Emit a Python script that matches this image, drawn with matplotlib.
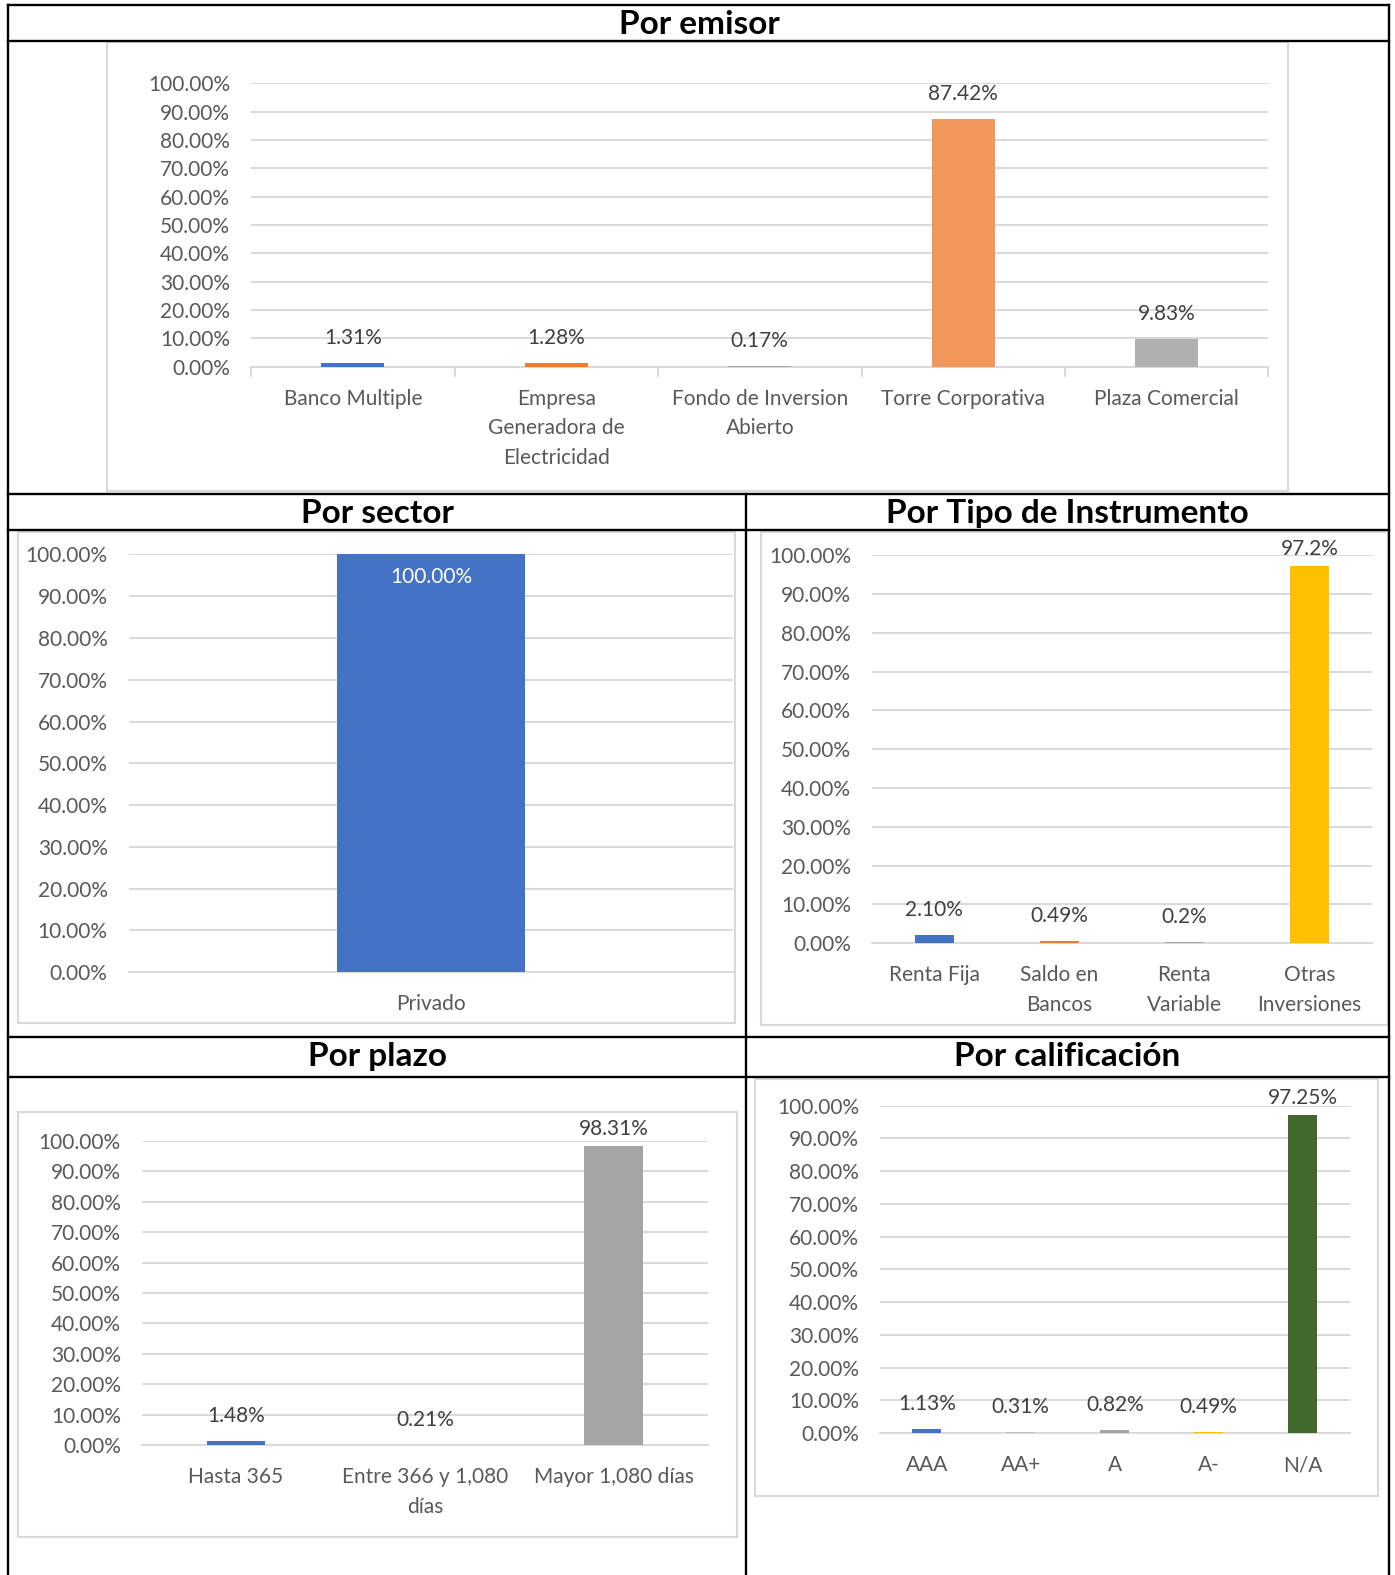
import matplotlib
matplotlib.use("Agg")
import matplotlib.pyplot as plt
from matplotlib.lines import Line2D
from matplotlib.patches import Rectangle
import numpy as np

plt.rcParams['font.family'] = ['Lato', 'DejaVu Sans']

# ---- data ----
emisor_cats = ["Banco Multiple", "Empresa\nGeneradora de\nElectricidad",
               "Fondo de Inversion\nAbierto", "Torre Corporativa", "Plaza Comercial"]
emisor_vals = [1.31, 1.28, 0.17, 87.42, 9.83]
emisor_labels = ["1.31%", "1.28%", "0.17%", "87.42%", "9.83%"]
emisor_colors = ["#4472C4", "#ED7D31", "#A5A5A5", "#F1975A", "#B0B0B0"]

sector_cats = ["Privado"]
sector_vals = [100.0]
sector_labels = ["100.00%"]
sector_colors = ["#4472C4"]

tipo_cats = ["Renta Fija", "Saldo en\nBancos", "Renta\nVariable", "Otras\nInversiones"]
tipo_vals = [2.10, 0.49, 0.2, 97.2]
tipo_labels = ["2.10%", "0.49%", "0.2%", "97.2%"]
tipo_colors = ["#4472C4", "#ED7D31", "#A5A5A5", "#FFC000"]

plazo_cats = ["Hasta 365", "Entre 366 y 1,080\ndías", "Mayor 1,080 días"]
plazo_vals = [1.48, 0.21, 98.31]
plazo_labels = ["1.48%", "0.21%", "98.31%"]
plazo_colors = ["#4472C4", "#ED7D31", "#A5A5A5"]

calif_cats = ["AAA", "AA+", "A", "A-", "N/A"]
calif_vals = [1.13, 0.31, 0.82, 0.49, 97.25]
calif_labels = ["1.13%", "0.31%", "0.82%", "0.49%", "97.25%"]
calif_colors = ["#4472C4", "#BFBFBF", "#A5A5A5", "#FFC000", "#43682B"]

W, H = 1395, 1575
S = 1395 / 1389  # positions below were measured on the 1389 px preview
fig = plt.figure(figsize=(W / 100, H / 100), dpi=100)


def fx(x):
    return x * S / W


def fy(y):
    return 1 - y * S / H


def hline(y, x0, x1):
    fig.add_artist(Line2D([fx(x0), fx(x1)], [fy(y), fy(y)], color="black", lw=1.7))


def vline(x, y0, y1):
    fig.add_artist(Line2D([fx(x), fx(x)], [fy(y0), fy(y1)], color="black", lw=1.7))


def box(x0, y0, x1, y1):
    fig.add_artist(Rectangle((fx(x0), fy(y1)), fx(x1) - fx(x0), fy(y0) - fy(y1),
                             transform=fig.transFigure, facecolor="white",
                             edgecolor="#D9D9D9", lw=1.5, zorder=-1))


def header(text, xc, yc):
    fig.text(fx(xc), fy(yc), text, ha="center", va="center",
             fontsize=24, fontweight="bold", color="black")


def chart(left, right, y100, y0, cats, vals, labels, colors, inside=False,
          xticks=False, xpad=16):
    ax = fig.add_axes([fx(left), fy(y0), fx(right) - fx(left), fy(y100) - fy(y0)])
    n = len(cats)
    x = np.arange(n)
    ax.bar(x, vals, width=0.31, color=colors, zorder=3)
    ax.set_xlim(-0.5, n - 0.5)
    ax.set_ylim(0, 100)
    ax.set_yticks(np.arange(0, 101, 10))
    ax.set_yticklabels([f"{t:.2f}%" for t in np.arange(0, 101, 10)])
    ax.grid(axis="y", color="#D9D9D9", lw=1.4, zorder=0)
    ax.set_axisbelow(True)
    for s in ["left", "right", "top"]:
        ax.spines[s].set_visible(False)
    ax.spines["bottom"].set_color("#D9D9D9")
    ax.spines["bottom"].set_linewidth(1.4)
    ax.set_xticks(x)
    ax.set_xticklabels(cats, linespacing=1.6)
    ax.tick_params(axis="y", length=0, pad=15, labelcolor="#595959", labelsize=15)
    ax.tick_params(axis="x", length=0, pad=xpad, labelcolor="#595959", labelsize=15)
    if xticks:
        ax.set_xticks(np.arange(n + 1) - 0.5, minor=True)
        ax.tick_params(axis="x", which="minor", length=7, color="#D9D9D9", width=1.4)
    ax.patch.set_alpha(0)
    for xi, v, lab in zip(x, vals, labels):
        if inside:
            ax.annotate(lab, (xi, v), xytext=(0, -23), textcoords="offset pixels",
                        ha="center", va="center", color="white", fontsize=15)
        else:
            off = 17 if v > 95 else 25
            ax.annotate(lab, (xi, v), xytext=(0, off), textcoords="offset pixels",
                        ha="center", va="center", color="#404040", fontsize=15)
    return ax


# ---- table frame ----
hline(5, 8, 1383)
hline(41, 8, 1383)
hline(492, 8, 1383)
hline(528, 8, 1383)
hline(1033, 8, 1383)
hline(1072, 8, 1383)
vline(8, 5, 1575)
vline(1383, 5, 1575)
vline(743, 492, 1575)

header("Por emisor", 696, 24)
header("Por sector", 376, 511)
header("Por Tipo de Instrumento", 1063, 511)
header("Por plazo", 376, 1052)
header("Por calificación", 1063, 1052)

# ---- chart boxes ----
box(107, 42, 1282, 489)
box(18, 530, 732, 1019)
box(758, 530, 1382, 1021)
box(18, 1107, 734, 1530)
box(752, 1074, 1372, 1490)

chart(250, 1263, 83, 365, emisor_cats, emisor_vals, emisor_labels, emisor_colors,
      xticks=True)
chart(128, 730, 552, 968, sector_cats, sector_vals, sector_labels, sector_colors,
      inside=True)
chart(868, 1366, 553, 939, tipo_cats, tipo_vals, tipo_labels, tipo_colors)
chart(141, 705, 1136, 1439, plazo_cats, plazo_vals, plazo_labels, plazo_colors)
chart(876, 1344, 1101, 1427, calif_cats, calif_vals, calif_labels, calif_colors)

fig.savefig("out.png", dpi=100, facecolor="white")
